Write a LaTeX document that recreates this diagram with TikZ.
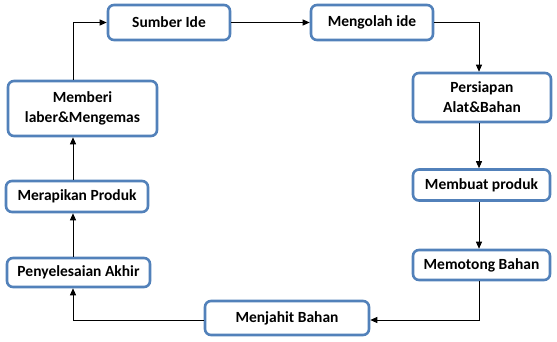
\documentclass[tikz,border=0pt]{standalone}
\usepackage{fontspec}
\setmainfont{Carlito}
\usetikzlibrary{arrows.meta}
\definecolor{boxblue}{HTML}{5281BA}
\tikzset{
  stepbox/.style={draw=boxblue, line width=2.6pt, rounded corners=6pt, fill=white,
    align=center, inner sep=0pt, font=\fontsize{15.5}{20}\selectfont\bfseries},
  conn/.style={-{Triangle[length=7pt,width=6pt]}, line width=0.9pt, black}
}
\begin{document}
\begin{tikzpicture}[x=1pt,y=-1pt]
\useasboundingbox (0,0) rectangle (557,341);
\node[stepbox, minimum width=122pt, minimum height=35pt] (sumber) at (169,22.5) {Sumber Ide};
\node[stepbox, minimum width=122pt, minimum height=35pt] (olah) at (372,22.5) {Mengolah ide};
\node[stepbox, minimum width=138pt, minimum height=49pt] (siap) at (482,97.5) {Persiapan\\Alat\&Bahan};
\node[stepbox, minimum width=137pt, minimum height=31pt] (buat) at (481.5,185) {Membuat produk};
\node[stepbox, minimum width=137pt, minimum height=30pt] (potong) at (481.5,265) {Memotong Bahan};
\node[stepbox, minimum width=164pt, minimum height=34pt] (jahit) at (287,318) {Menjahit Bahan};
\node[stepbox, minimum width=143pt, minimum height=29pt] (akhir) at (78.5,272.5) {Penyelesaian Akhir};
\node[stepbox, minimum width=142pt, minimum height=31pt] (rapi) at (77,196.5) {Merapikan Produk};
\node[stepbox, minimum width=149pt, minimum height=55pt] (label) at (82.5,108.5) {Memberi\\laber\&Mengemas};
\coordinate (lx) at (73,0);
\coordinate (rx) at (479,0);
\draw[conn] (label.north -| lx) |- (sumber.west);
\draw[conn] (sumber.east) -- (olah.west);
\draw[conn] (olah.east) -| (siap.north -| rx);
\draw[conn] (siap.south -| rx) -- (buat.north -| rx);
\draw[conn] (buat.south -| rx) -- (potong.north -| rx);
\draw[conn] (potong.south -| rx) |- ([yshift=-2pt]jahit.east);
\draw[conn] ([yshift=-2pt]jahit.west) -| (akhir.south -| lx);
\draw[conn] (akhir.north -| lx) -- (rapi.south -| lx);
\draw[conn] (rapi.north -| lx) -- (label.south -| lx);
\end{tikzpicture}
\end{document}
